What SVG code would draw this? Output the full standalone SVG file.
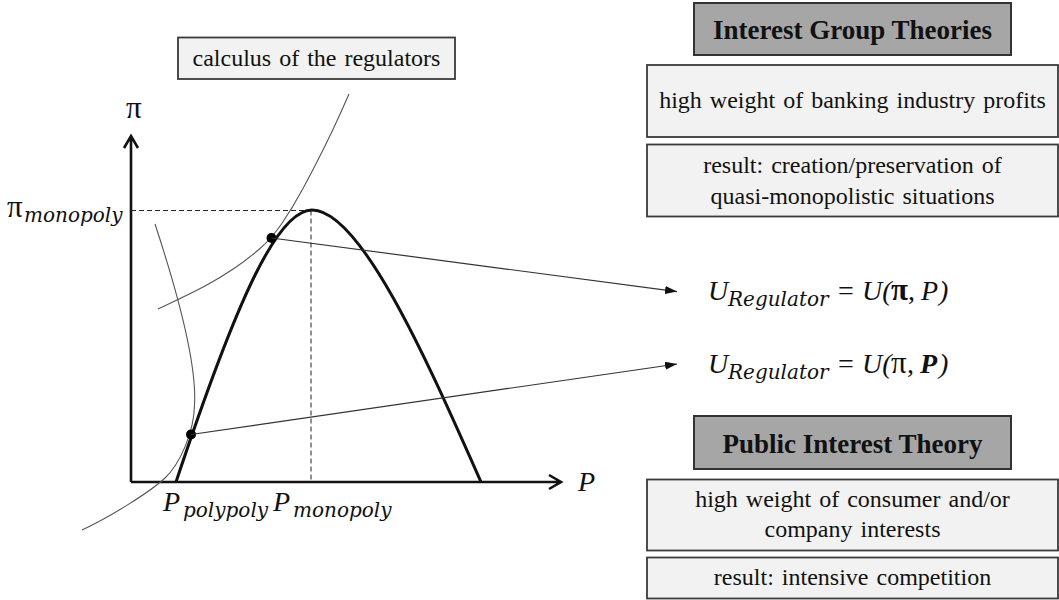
<svg xmlns="http://www.w3.org/2000/svg" width="1059" height="600" viewBox="0 0 1059 600">
<style>
.box{fill:#f2f2f2;stroke:#3a3a3a;stroke-width:1.8}
.title{fill:#a6a6a6;stroke:#333;stroke-width:2}
.t{font-family:"Liberation Serif","Times New Roman",serif;font-size:24px;fill:#111;text-anchor:middle;word-spacing:2px}
.tb{font-family:"Liberation Serif","Times New Roman",serif;font-size:27px;font-weight:bold;fill:#111;text-anchor:middle}
.m{font-family:"Liberation Serif","Times New Roman",serif;font-size:28px;font-style:italic;fill:#111}
.g{font-family:"Liberation Serif","Times New Roman",serif;font-size:28px;fill:#111}
.pi{font-family:"Liberation Serif","Times New Roman",serif;font-size:31px;fill:#111}
.s{font-family:"DejaVu Serif",serif;font-size:20px;font-style:italic;fill:#111}
.axis{fill:none;stroke:#111;stroke-width:2.6}
.curve{fill:none;stroke:#111;stroke-width:3}
.thin{fill:none;stroke:#555;stroke-width:1.1}
.dash{fill:none;stroke:#222;stroke-width:1;stroke-dasharray:5 3}
.conn{fill:none;stroke:#333;stroke-width:1.2;marker-end:url(#arr)}
</style>
<defs>
<marker id="arr" markerUnits="userSpaceOnUse" markerWidth="12" markerHeight="8" refX="12" refY="4" orient="auto">
<path d="M0,0 L12,4 L0,8 Z" fill="#111"/>
</marker>
</defs>

<g id="axes">
<path class="axis" d="M131,482 L131,136 M124,148 L131,136 L138,148"/>
<path class="axis" d="M131,482 L560,482 M549,475 L561,482 L549,489"/>
<text class="pi" x="126" y="118">π</text>
<text class="m" x="578" y="491">P</text>
</g>

<g id="guides">
<path class="dash" d="M131,210.5 L312,210.5 M311,210.5 L311,482"/>
</g>

<g id="profit-curve">
<path class="curve" d="M176,482 C236,302 277,210 312,210 C362,210 431,369.5 481,482"/>
</g>

<g id="indifference-curves">
<path class="thin" d="M158,309 Q190,294 205,286 Q220,278 234,268.5 Q248,259 260,248.5 Q272,238 282.5,222.5 Q293,207 303,188.5 Q313,170 323,150 Q333,130 341,112 L349,94"/>
<path class="thin" d="M155,224 C180,300 197,365 194.5,405 C194,432 180,464 165,478 C150,492 110,517 82,530"/>
</g>

<g id="points">
<circle cx="271.5" cy="238" r="5" fill="#000"/>
<circle cx="191" cy="434.5" r="5" fill="#000"/>
</g>

<g id="connectors">
<path class="conn" d="M271.5,238 L677,291.6"/>
<path class="conn" d="M191,434.5 L677,364"/>
</g>

<g id="axis-labels">
<text class="pi" x="7" y="217">π</text>
<text class="s" x="24" y="222">monopoly</text>
<text class="m" x="163" y="511">P</text>
<text class="s" x="183" y="517">polypoly</text>
<text class="m" x="273" y="511">P</text>
<text class="s" x="293" y="517">monopoly</text>
</g>

<g id="calculus">
<rect class="box" x="178" y="37.5" width="277" height="41.5"/>
<text class="t" x="316.5" y="66">calculus of the regulators</text>
</g>

<g id="interest-group-title">
<rect class="title" x="694" y="3" width="317" height="52"/>
<text class="tb" x="852.5" y="39">Interest Group Theories</text>
</g>
<g id="interest-group-weight">
<rect class="box" x="647" y="65" width="411" height="72"/>
<text class="t" x="852.5" y="108">high weight of banking industry profits</text>
</g>
<g id="interest-group-result">
<rect class="box" x="647" y="144.5" width="411" height="72"/>
<text class="t" x="852.5" y="173">result: creation/preservation of</text>
<text class="t" x="852.5" y="204">quasi-monopolistic situations</text>
</g>

<g id="formula-profit">
<text class="m" x="708" y="300">U</text>
<text class="s" x="728" y="306">Regulator</text>
<text class="g" x="838" y="300">=</text>
<text class="m" x="862" y="300">U(</text>
<text class="pi" x="891" y="300" font-weight="bold">π</text>
<text class="g" x="908" y="300">,</text>
<text class="m" x="921" y="300">P</text>
<text class="m" x="939" y="300">)</text>
</g>
<g id="formula-competition">
<text class="m" x="708" y="373">U</text>
<text class="s" x="728" y="379">Regulator</text>
<text class="g" x="838" y="373">=</text>
<text class="m" x="862" y="373">U(</text>
<text class="pi" x="891" y="373">π</text>
<text class="g" x="907" y="373">,</text>
<text class="m" x="920" y="373" font-weight="bold">P</text>
<text class="m" x="939" y="373">)</text>
</g>

<g id="public-interest-title">
<rect class="title" x="694" y="416" width="317" height="53"/>
<text class="tb" x="852.5" y="453">Public Interest Theory</text>
</g>
<g id="public-interest-weight">
<rect class="box" x="647" y="479.5" width="411" height="71"/>
<text class="t" x="852.5" y="507">high weight of consumer and/or</text>
<text class="t" x="852.5" y="537">company interests</text>
</g>
<g id="public-interest-result">
<rect class="box" x="647" y="557.5" width="411" height="41"/>
<text class="t" x="852.5" y="585">result: intensive competition</text>
</g>
</svg>
